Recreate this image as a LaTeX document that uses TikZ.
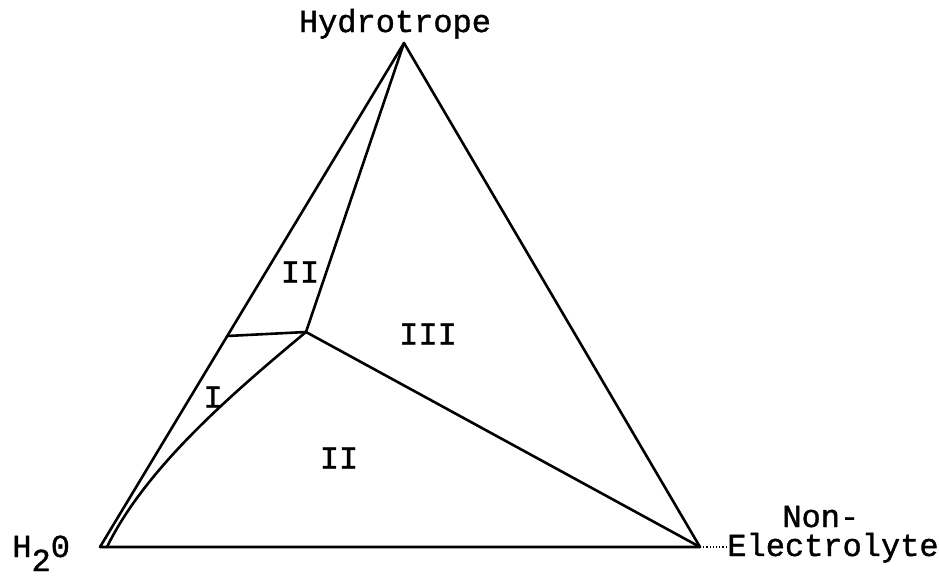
\documentclass[tikz,border=0pt]{standalone}
\usepackage{fontspec}
\setmonofont[FakeBold=1.2]{Liberation Mono}
\usetikzlibrary{calc,positioning}
\tikzset{
  bd/.style={line width=1.3pt,line join=round,line cap=round,black},
  lb/.style={font=\ttfamily\fontsize{16}{18}\selectfont,inner sep=0pt},
  lead/.style={densely dotted,line width=0.6pt,black}
}

\begin{document}
\begin{tikzpicture}[x=0.5pt,y=-0.5pt]
\useasboundingbox (0,0) rectangle (939,575);
% corners of the triangle
\coordinate (W) at (100,547); \coordinate (T) at (404,43);
\coordinate (N) at (700,547);
% inner points
\coordinate (J) at (306,332); \coordinate (Q) at (227,336);
\coordinate (C) at (107,547);
\draw[bd] (W)--(T)--(N)--cycle;
\draw[bd] (T)--(J);
\draw[bd] (Q)--(J);
\draw[bd] (J)--(N);
\draw[bd] (J) .. controls (234,392) and (146,467) .. (C);
% corner labels
\node[lb,anchor=base] (hyd) at (395,32) {Hydrotrope};
\node[lb,anchor=base west] (wat) at (12,557) {H\raisebox{-7pt}{2}0};
\node[lb,anchor=base west] (non) at (782,527) {Non-};
\node[lb,anchor=base west] (ele) at (727,556) {Electrolyte};
\draw[lead] (N)--(ele.west |- N);
% regions
\node[lb] (r2a) at (300,272) {II};
\node[lb] (r3) at (428,334) {III};
\node[lb] (r1) at (213,397) {I};
\node[lb] (r2b) at (339,458) {II};
\end{tikzpicture}
\end{document}
